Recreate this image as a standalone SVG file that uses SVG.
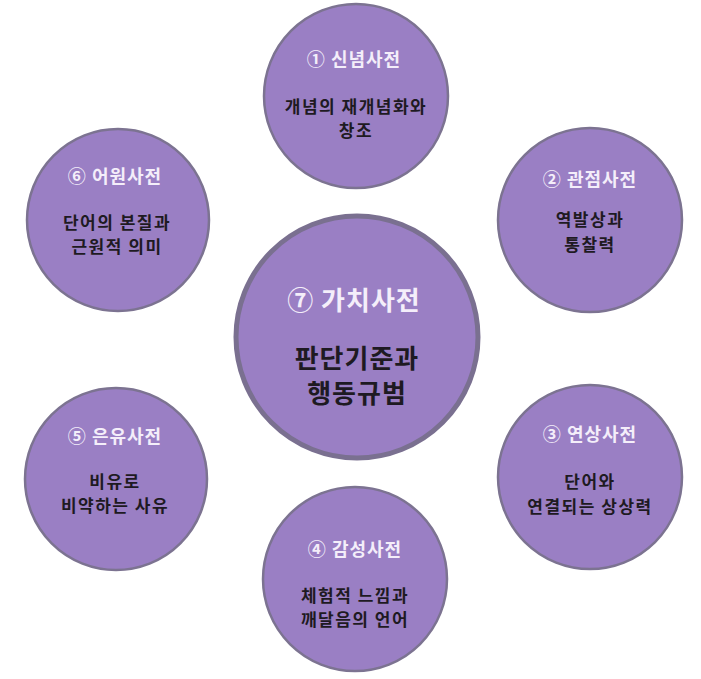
<svg xmlns="http://www.w3.org/2000/svg" width="701" height="679" viewBox="0 0 701 679">
<style>
.c{fill:#9a7fc4;stroke:#7c7391;stroke-width:2.5}
.cc{fill:#9a7fc4;stroke:#7a7090;stroke-width:5}
.t{font-family:"Noto Sans CJK KR","Noto Sans",sans-serif;font-weight:700;fill:#f4eefa;font-size:18px;letter-spacing:1px;text-anchor:middle;dominant-baseline:central}
.b{font-family:"Noto Sans CJK KR","Noto Sans",sans-serif;font-weight:700;fill:#1e1a22;font-size:17px;letter-spacing:1.5px;text-anchor:middle;dominant-baseline:central}
.tc{font-size:26px}
.bc{font-size:26px;letter-spacing:1px}
</style>
<rect width="701" height="679" fill="#ffffff"/>
<g id="connectors"/>
<g id="n1">
<circle class="c" cx="356" cy="96" r="92"/>
<text class="t" x="354" y="58">① 신념사전</text>
<text class="b" x="356" y="105">개념의 재개념화와</text>
<text class="b" x="356" y="129">창조</text>
</g>
<g id="n2">
<circle class="c" cx="590" cy="220" r="92"/>
<text class="t" x="590" y="178">② 관점사전</text>
<text class="b" x="590" y="218">역발상과</text>
<text class="b" x="590" y="243">통찰력</text>
</g>
<g id="n3">
<circle class="c" cx="590" cy="477" r="92"/>
<text class="t" x="590" y="433">③ 연상사전</text>
<text class="b" x="590" y="480">단어와</text>
<text class="b" x="590" y="505">연결되는 상상력</text>
</g>
<g id="n4">
<circle class="c" cx="355" cy="579" r="92"/>
<text class="t" x="355" y="548">④ 감성사전</text>
<text class="b" x="355" y="594">체험적 느낌과</text>
<text class="b" x="355" y="618">깨달음의 언어</text>
</g>
<g id="n5">
<circle class="c" cx="116" cy="479" r="91"/>
<text class="t" x="115" y="435">⑤ 은유사전</text>
<text class="b" x="115" y="480">비유로</text>
<text class="b" x="115" y="504">비약하는 사유</text>
</g>
<g id="n6">
<circle class="c" cx="118" cy="220" r="91"/>
<text class="t" x="115" y="175">⑥ 어원사전</text>
<text class="b" x="117" y="221">단어의 본질과</text>
<text class="b" x="117" y="245">근원적 의미</text>
</g>
<g id="n7">
<circle class="cc" cx="357" cy="337" r="121"/>
<text class="t tc" x="354" y="298">⑦ 가치사전</text>
<text class="b bc" x="357" y="356">판단기준과</text>
<text class="b bc" x="357" y="391">행동규범</text>
</g>
</svg>
